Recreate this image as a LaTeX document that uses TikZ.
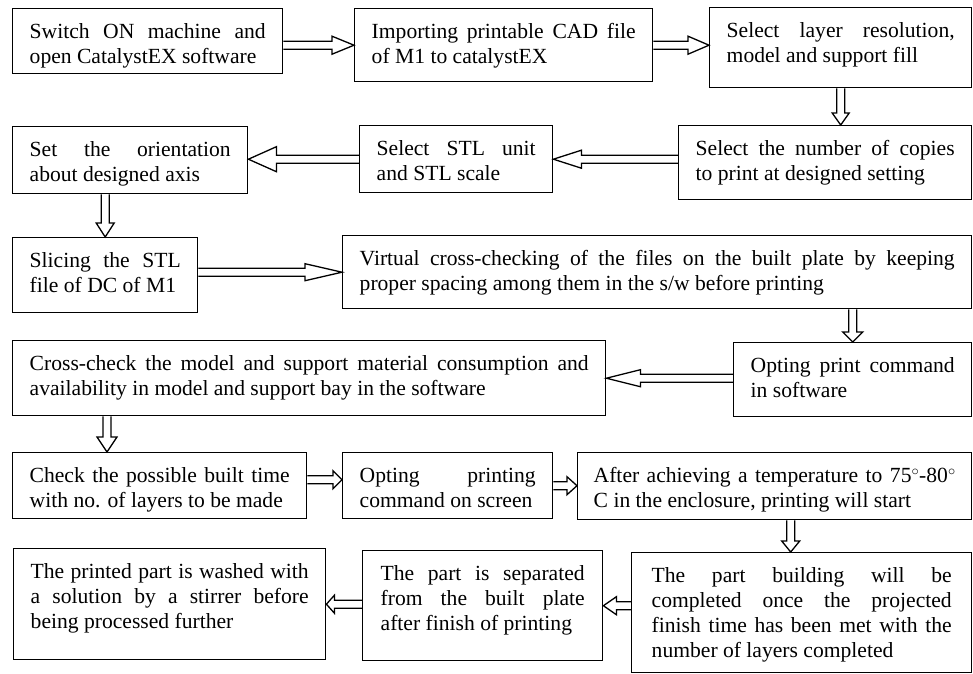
\documentclass[tikz,border=0pt]{standalone}
\usepackage{fontspec}
\setmainfont{Liberation Serif}
\usetikzlibrary{calc}
\tikzset{
  stepbox/.style 2 args={draw,line width=1.4pt,anchor=north west,align=justify,
    inner xsep=17pt,inner ysep=4pt,text height=26pt,text width=#1,text depth=#2,
    font={\fontsize{21.6}{25}\selectfont\fontdimen3\font=1em \fontdimen4\font=0pt
      \hyphenpenalty=10000 \exhyphenpenalty=10000 \tolerance=10000 }},
  % hollow block arrow: #1 head length, #2 half head width
  harr/.style 2 args={draw,line width=1.3pt,line join=miter,
    to path={
      ($(\tikztostart)!4pt!90:(\tikztotarget)$)
      -- ($($(\tikztotarget)!#1!(\tikztostart)$)!4pt!-90:(\tikztostart)$)
      -- ($($(\tikztotarget)!#1!(\tikztostart)$)!#2!-90:(\tikztostart)$)
      -- (\tikztotarget)
      -- ($($(\tikztotarget)!#1!(\tikztostart)$)!#2!90:(\tikztostart)$)
      -- ($($(\tikztotarget)!#1!(\tikztostart)$)!4pt!90:(\tikztostart)$)
      -- ($(\tikztostart)!4pt!-90:(\tikztotarget)$)}}
}
\begin{document}
\begin{tikzpicture}[x=1pt,y=-1pt]
  \useasboundingbox (0,0) rectangle (973,673);
  % process steps, row by row
  \node[stepbox={236pt}{31pt}] (a) at (12,8) {Switch ON machine and open CatalystEX software};
  \node[stepbox={264pt}{39pt}] (b) at (354,8) {Importing printable CAD file of M1 to catalystEX};
  \node[stepbox={228pt}{46pt}] (c) at (709,7) {Select layer resolution, model and support fill};
  \node[stepbox={259pt}{40pt}] (d) at (678,125) {Select the number of copies to print at designed setting};
  \node[stepbox={159pt}{33pt}] (e) at (359,125) {Select STL unit and STL scale};
  \node[stepbox={201pt}{33pt}] (f) at (12,126) {Set the orientation about designed axis};
  \node[stepbox={151pt}{41pt}] (g) at (12,237) {Slicing the STL file of DC of M1};
  \node[stepbox={595pt}{39pt}] (h) at (342,235) {Virtual cross-checking of the files on the built plate by keeping proper spacing among them in the s/w before printing};
  \node[stepbox={559pt}{41pt}] (i) at (12,340) {Cross-check the model and support material consumption and availability in model and support bay in the software};
  \node[stepbox={204pt}{40pt}] (j) at (733,342) {Opting print command in software};
  \node[stepbox={260pt}{32pt}] (k) at (12,452) {Check the possible built time with no. of layers to be made};
  \node[stepbox={176pt}{32pt}] (l) at (342,452) {Opting printing command on screen};
  \node[stepbox={362pt}{33pt},inner xsep=16pt] (m) at (577,452) {After achieving a temperature to 75${}^{\circ}$-80${}^{\circ}$ C in the enclosure, printing will start};
  \node[stepbox={300pt}{86pt},inner xsep=20pt] (n) at (631,552) {The part building will be completed once the projected finish time has been met with the number of layers completed};
  \node[stepbox={204pt}{76pt},inner xsep=18pt] (o) at (362,550) {The part is separated from the built plate after finish of printing};
  \node[stepbox={278pt}{77pt}] (p) at (13,548) {The printed part is washed with a solution by a stirrer before being processed further};

  \draw[harr={22pt}{9pt}] (a.east |- b.west) to (b.west);
  \draw[harr={21pt}{9pt}] (b.east) to (b.east -| c.west);
  \draw[harr={12pt}{8.5pt}] (c.south) to (c.south |- d.north);
  \draw[harr={28pt}{9pt}] (d.west |- e.east) to (e.east);
  \draw[harr={28pt}{12.5pt}] (e.west) to (e.west -| f.east);
  \draw[harr={14pt}{9pt}] (g.north |- f.south) to (g.north);
  \draw[harr={37pt}{8.5pt}] (g.east |- h.west) to (h.west);
  \draw[harr={10pt}{10pt}] (j.north |- h.south) to (j.north);
  \draw[harr={34pt}{8.5pt}] (j.west |- i.east) to (i.east);
  \draw[harr={15pt}{10pt}] ([xshift=95pt]i.south west) to ([xshift=95pt]k.north west);
  \draw[harr={9pt}{9pt}] ([yshift=6pt]k.east) to ([yshift=6pt]l.west);
  \draw[harr={10pt}{9pt}] (l.east) to (l.east -| m.west);
  \draw[harr={11pt}{9pt}] ([xshift=16pt]m.south) to ([xshift=-11pt]n.north);
  \draw[harr={13pt}{9pt}] (n.west |- o.east) to (o.east);
  \draw[harr={8pt}{9pt}] (o.west |- p.east) to (p.east);
\end{tikzpicture}
\end{document}
